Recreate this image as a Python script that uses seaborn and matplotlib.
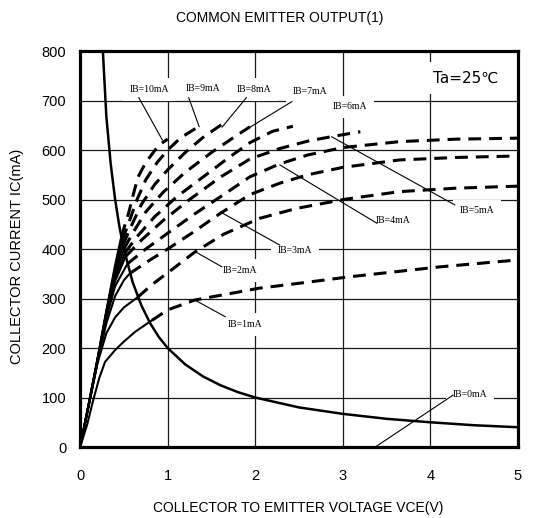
import matplotlib
matplotlib.use("Agg")
import matplotlib.pyplot as plt
import seaborn as sns
import pandas as pd

sns.set_style("white")
plt.rcParams['font.family'] = ['Liberation Sans', 'DejaVu Sans']
plt.rcParams['text.color'] = 'black'
plt.rcParams['xtick.color'] = 'black'
plt.rcParams['ytick.color'] = 'black'
plt.rcParams['axes.labelcolor'] = 'black'

# ---------------- data ----------------
x_ticks = [0, 1, 2, 3, 4, 5]
y_ticks = [0, 100, 200, 300, 400, 500, 600, 700, 800]

# power-limit curve (solid, descending)
pc_v = [0.26, 0.3, 0.35, 0.4, 0.45, 0.5, 0.6, 0.7, 0.8, 0.9, 1.0, 1.2, 1.4, 1.6, 1.8, 2.0,
        2.5, 3.0, 3.5, 4.0, 4.5, 5.0]
pc_i = [800, 667, 571, 500, 444, 400, 333, 286, 250, 222, 200, 167, 143, 125, 111, 100,
        80, 67, 57, 50, 44, 40]

# solid parts of the IB curves (origin to the power-limit curve)
s1_v = [0, 0.08, 0.15, 0.22, 0.285, 0.4, 0.5, 0.63, 0.82]
s1_i = [0, 45, 95, 140, 172, 196, 213, 233, 256]
s2_v = [0, 0.1, 0.2, 0.3, 0.4, 0.5, 0.66]
s2_i = [0, 85, 170, 230, 262, 282, 303]
s3_v = [0, 0.1, 0.2, 0.3, 0.4, 0.5, 0.57]
s3_i = [0, 85, 172, 250, 305, 337, 351]
s4_v = [0, 0.1, 0.2, 0.3, 0.4, 0.54]
s4_i = [0, 86, 174, 260, 325, 370]
s5_v = [0, 0.1, 0.2, 0.3, 0.4, 0.52]
s5_i = [0, 86, 175, 265, 335, 385]
s6_v = [0, 0.1, 0.2, 0.3, 0.4, 0.51]
s6_i = [0, 87, 176, 268, 342, 392]
s7_v = [0, 0.1, 0.2, 0.3, 0.4, 0.5]
s7_i = [0, 87, 177, 270, 348, 400]
s8_v = [0, 0.1, 0.2, 0.3, 0.4, 0.49]
s8_i = [0, 88, 178, 272, 355, 408]
s9_v = [0, 0.1, 0.2, 0.3, 0.4, 0.48]
s9_i = [0, 88, 179, 274, 362, 417]
s10_v = [0, 0.1, 0.2, 0.3, 0.4, 0.47]
s10_i = [0, 89, 180, 276, 368, 425]

# dashed parts of the IB curves
d1_v = [0.82, 1.0, 1.31, 2.05, 2.51, 3.08, 4.11, 5.0]
d1_i = [256, 277, 297, 321, 331, 344, 364, 378]
d2_v = [0.66, 0.82, 1.06, 1.31, 1.64, 2.05, 2.47, 3.04, 3.65, 4.3, 5.0]
d2_i = [303, 328, 360, 394, 430, 462, 482, 501, 516, 523, 527]
d3_v = [0.57, 0.8, 1.0, 1.3, 1.6, 1.94, 2.28, 2.6, 3.0, 3.65, 4.3, 5.0]
d3_i = [351, 378, 400, 435, 472, 510, 533, 550, 565, 580, 585, 588]
d4_v = [0.54, 0.75, 1.0, 1.3, 1.64, 1.94, 2.28, 2.6, 3.0, 3.65, 4.3, 5.0]
d4_i = [370, 400, 432, 470, 510, 546, 572, 590, 605, 617, 622, 624]
d5_v = [0.52, 0.7, 0.95, 1.25, 1.6, 1.94, 2.28, 2.6, 2.87, 3.2]
d5_i = [385, 418, 458, 500, 545, 582, 603, 618, 627, 637]
d6_v = [0.51, 0.65, 0.85, 1.1, 1.4, 1.7, 1.94, 2.2, 2.43]
d6_i = [392, 425, 465, 505, 545, 585, 615, 638, 648]
d7_v = [0.5, 0.6, 0.75, 0.95, 1.2, 1.5, 1.75, 1.94]
d7_i = [400, 432, 475, 515, 555, 595, 625, 647]
d8_v = [0.49, 0.58, 0.7, 0.85, 1.0, 1.2, 1.4, 1.62]
d8_i = [408, 445, 490, 530, 560, 595, 625, 652]
d9_v = [0.48, 0.56, 0.65, 0.75, 0.88, 1.0, 1.15, 1.36]
d9_i = [417, 455, 500, 540, 575, 600, 625, 648]
d10_v = [0.47, 0.55, 0.6, 0.66, 0.75, 0.9, 1.0]
d10_i = [425, 470, 505, 545, 575, 610, 622]

labels = ["IB=10mA", "IB=9mA", "IB=8mA", "IB=7mA", "IB=6mA", "IB=5mA",
          "IB=4mA", "IB=3mA", "IB=2mA", "IB=1mA", "IB=0mA"]
label_x = [0.79, 1.40, 1.98, 2.63, 3.08, 4.53, 3.57, 2.45, 1.83, 1.88, 4.45]
label_y = [722, 725, 723, 719, 687, 477, 457, 398, 356, 248, 107]
# leader lines: (start V, start I, end V, end I); None = no leader
leader_x0 = [0.67, 1.24, 1.90, 2.42, None, 4.28, 3.39, 2.28, 1.62, 1.66, 4.26]
leader_y0 = [706, 706, 706, 698, None, 489, 452, 408, 364, 263, 105]
leader_x1 = [0.94, 1.36, 1.62, 1.94, None, 2.87, 2.28, 1.60, 1.31, 1.31, 3.37]
leader_y1 = [620, 647, 646, 646, None, 627, 570, 475, 395, 297, 0]

solid_sets = [(s1_v, s1_i), (s2_v, s2_i), (s3_v, s3_i), (s4_v, s4_i), (s5_v, s5_i),
              (s6_v, s6_i), (s7_v, s7_i), (s8_v, s8_i), (s9_v, s9_i), (s10_v, s10_i)]
dash_sets = [(d1_v, d1_i), (d2_v, d2_i), (d3_v, d3_i), (d4_v, d4_i), (d5_v, d5_i),
             (d6_v, d6_i), (d7_v, d7_i), (d8_v, d8_i), (d9_v, d9_i), (d10_v, d10_i)]

# ---------------- figure ----------------
fig = plt.figure(figsize=(5.34, 5.18), dpi=100)
ax = fig.add_axes([0.15, 0.137, 0.82, 0.7645])

ax.set_axisbelow(True)
ax.grid(True, color="#1a1a1a", linewidth=0.9)

sns.lineplot(x=pc_v, y=pc_i, ax=ax, color="black", linewidth=1.8, sort=False,
             estimator=None, zorder=3)
for v, i in solid_sets:
    sns.lineplot(x=v, y=i, ax=ax, color="black", linewidth=1.5, sort=False,
                 estimator=None, zorder=3)
for v, i in dash_sets:
    sns.lineplot(x=v, y=i, ax=ax, color="black", linewidth=2.2, sort=False,
                 estimator=None, zorder=3, linestyle=(0, (4.2, 2.6)))

for k, lab in enumerate(labels):
    ax.text(label_x[k], label_y[k], lab, ha="center", va="center", fontsize=7,
            family=["Liberation Serif", "DejaVu Serif"], zorder=4,
            bbox=dict(facecolor="white", edgecolor="none", pad=5))
    if leader_x0[k] is not None:
        ax.plot([leader_x0[k], leader_x1[k]], [leader_y0[k], leader_y1[k]],
                color="black", linewidth=0.8, zorder=5)

ax.text(4.4, 745, "Ta=25℃", ha="center", va="center", fontsize=11, zorder=4,
        family=["DejaVu Sans"],
        bbox=dict(facecolor="white", edgecolor="none", pad=6))

ax.set_xlim(0, 5)
ax.set_ylim(0, 800)
ax.set_xticks(x_ticks)
ax.set_yticks(y_ticks)
ax.set_xticklabels([str(t) for t in x_ticks])
ax.set_yticklabels([str(t) for t in y_ticks])
ax.tick_params(axis="x", length=0, pad=16, labelsize=10.5)
ax.tick_params(axis="y", length=0, pad=10, labelsize=10.5)
for sp in ax.spines.values():
    sp.set_visible(True)
    sp.set_color("black")
    sp.set_linewidth(2.3)
ax.set_xlabel("")
ax.set_ylabel("")

fig.text(0.523, 1 - 18 / 518, "COMMON EMITTER OUTPUT(1)", ha="center", va="center",
         fontsize=10)
fig.text(0.558, 1 - 508 / 518, "COLLECTOR TO EMITTER VOLTAGE VCE(V)", ha="center",
         va="center", fontsize=10)
fig.text(0.032, 0.506, "COLLECTOR CURRENT IC(mA)", ha="center", va="center",
         rotation=90, fontsize=10.5)

fig.savefig("out.png", dpi=100, facecolor="white")
